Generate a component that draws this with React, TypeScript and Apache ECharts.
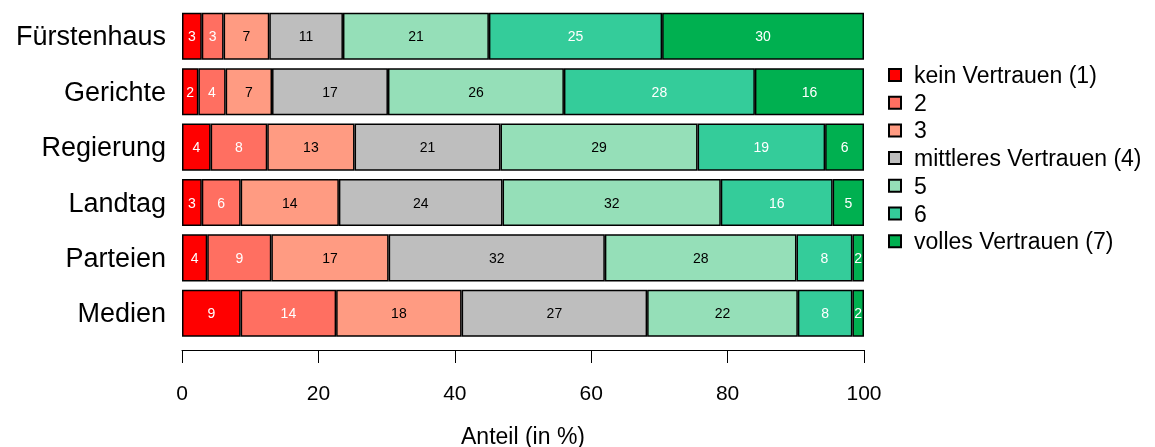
import React, { useEffect, useRef } from "react";
import * as echarts from "echarts";

const categories = ["Fürstenhaus", "Gerichte", "Regierung", "Landtag", "Parteien", "Medien"];
const seriesNames = [
  "kein Vertrauen (1)",
  "2",
  "3",
  "mittleres Vertrauen (4)",
  "5",
  "6",
  "volles Vertrauen (7)",
];
// shares per category (in %), order matches categories
const s1 = [2.9, 2.4, 4.2, 2.9, 3.7, 8.6];
const s2 = [3.2, 4.0, 8.3, 5.7, 9.4, 14.0];
const s3 = [6.7, 6.8, 12.8, 14.4, 17.2, 18.4];
const s4 = [10.8, 17.0, 21.4, 24.0, 31.7, 27.2];
const s5 = [21.4, 25.8, 28.9, 32.0, 28.1, 22.1];
const s6 = [25.4, 28.0, 18.7, 16.4, 8.2, 8.0];
const s7 = [29.6, 16.0, 5.7, 4.6, 1.7, 1.7];
const seriesValues = [s1, s2, s3, s4, s5, s6, s7];
const colors = ["#FF0000", "#FF6F61", "#FF9B82", "#BEBEBE", "#95DFB8", "#34CC9A", "#00B050"];
const labelColors = ["#FFFFFF", "#FFFFFF", "#000000", "#000000", "#000000", "#FFFFFF", "#FFFFFF"];
const xTicks = [0, 20, 40, 60, 80, 100];

const FONT = "'Liberation Sans', Arial, sans-serif";

export default function App() {
  const ref = useRef<HTMLDivElement>(null);
  useEffect(() => {
    if (!ref.current) return;
    const chart = echarts.init(ref.current, undefined, { renderer: "svg" });
    chart.setOption({
      animation: false,
      textStyle: { fontFamily: FONT },
      grid: {
        left: 182,
        right: 291,
        top: 8.6,
        bottom: 106,
        containLabel: false,
        outerBoundsMode: "none",
      },
      legend: {
        orient: "vertical",
        left: 888,
        top: 63,
        padding: 0,
        icon: "rect",
        itemWidth: 12,
        itemHeight: 12,
        itemGap: 3.7,
        textStyle: { fontSize: 23, color: "#000", lineHeight: 24, padding: [0, 0, 0, 8], fontFamily: FONT },
        data: seriesNames,
      },
      xAxis: {
        type: "value",
        min: 0,
        max: 100,
        interval: 20,
        offset: 9,
        splitLine: { show: false },
        axisLine: { show: true, lineStyle: { color: "#000", width: 1 } },
        axisTick: { show: true, length: 13, lineStyle: { color: "#000", width: 1 } },
        axisLabel: {
          margin: 32,
          fontSize: 21,
          color: "#000",
          fontFamily: FONT,
          formatter: (v: number) => (xTicks.includes(v) ? String(v) : ""),
        },
        name: "Anteil (in %)",
        nameLocation: "middle",
        nameGap: 74,
        nameTextStyle: { fontSize: 23, color: "#000", fontFamily: FONT },
      },
      yAxis: {
        type: "category",
        data: categories,
        inverse: true,
        axisLine: { show: false },
        axisTick: { show: false },
        axisLabel: { fontSize: 27, color: "#000", margin: 16, fontFamily: FONT },
      },
      series: seriesNames.map((name, i) => ({
        name,
        type: "bar",
        stack: "total",
        barCategoryGap: "15%",
        data: seriesValues[i],
        itemStyle: { color: colors[i], borderColor: "#000", borderWidth: 1.5 },
        label: {
          show: true,
          position: "inside",
          color: labelColors[i],
          fontSize: 14,
          fontFamily: FONT,
          formatter: (p: any) => String(Math.round(p.value)),
        },
        emphasis: { disabled: true },
      })),
    });
    return () => chart.dispose();
  }, []);
  return (
    <div
      ref={ref}
      style={{ position: "fixed", left: 0, top: 0, width: 1155, height: 447 }}
    />
  );
}
